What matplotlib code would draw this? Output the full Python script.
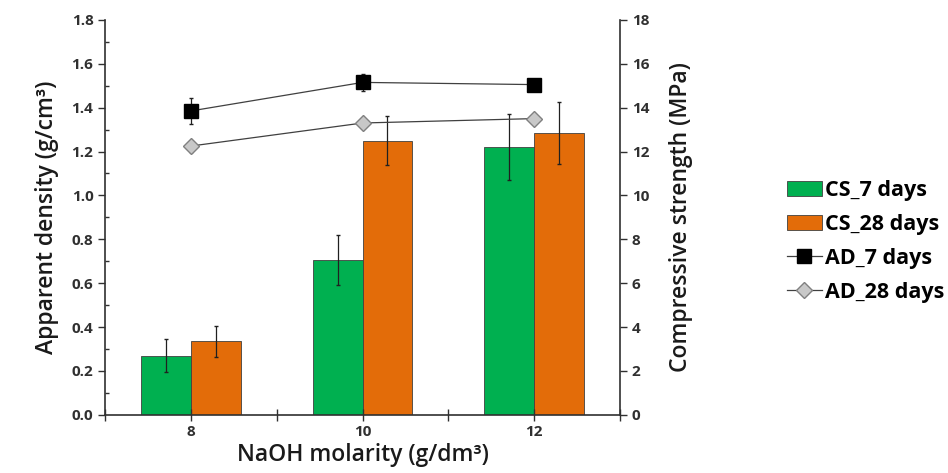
import numpy as np
import matplotlib.pyplot as plt
from matplotlib.ticker import MultipleLocator, FormatStrFormatter

plt.rcParams['font.family'] = ['Open Sans', 'DejaVu Sans']
plt.rcParams['font.weight'] = 'bold'

molarity = ['8', '10', '12']
cs_7 = [2.7, 7.05, 12.2]
cs_7_err = [0.75, 1.15, 1.5]
cs_28 = [3.35, 12.5, 12.85]
cs_28_err = [0.72, 1.1, 1.4]
ad_7 = [1.385, 1.515, 1.505]
ad_7_err = [0.06, 0.04, 0.0]
ad_28 = [1.225, 1.33, 1.35]
ad_28_err = [0.025, 0.02, 0.015]

fig = plt.figure(figsize=(9.48, 4.73), dpi=100)
ax = fig.add_axes([0.111, 0.123, 0.543, 0.835])
ax2 = ax.twinx()

x = np.arange(len(molarity)) + 0.5
w = 0.29

# bars on the strength axis
b1 = ax2.bar(x - w / 2, cs_7, w, color='#00B050', edgecolor='#404040', linewidth=0.6,
             yerr=cs_7_err, error_kw=dict(ecolor='#202020', elinewidth=0.9, capsize=1.5),
             label='CS_7 days', zorder=2)
b2 = ax2.bar(x + w / 2, cs_28, w, color='#E36C09', edgecolor='#404040', linewidth=0.6,
             yerr=cs_28_err, error_kw=dict(ecolor='#202020', elinewidth=0.9, capsize=1.5),
             label='CS_28 days', zorder=2)

# density lines drawn over the bars
ax.set_zorder(ax2.get_zorder() + 1)
ax.patch.set_visible(False)
l1 = ax.errorbar(x, ad_7, yerr=ad_7_err, color='#404040', lw=0.9, marker='s', ms=10,
                 mfc='black', mec='black', ecolor='#202020', elinewidth=0.9, capsize=1.5,
                 label='AD_7 days')
l2 = ax.errorbar(x, ad_28, yerr=ad_28_err, color='#404040', lw=0.9, marker='D', ms=8,
                 mfc='#C8C8C8', mec='#808080', mew=1.0, ecolor='#202020', elinewidth=0.9,
                 capsize=1.5, label='AD_28 days')

ax.set_xlim(0, 3)
ax.set_ylim(0, 1.8)
ax2.set_ylim(0, 18)
ax.yaxis.set_major_locator(MultipleLocator(0.2))
ax.yaxis.set_minor_locator(MultipleLocator(0.1))
ax.yaxis.set_major_formatter(FormatStrFormatter('%.1f'))
ax2.yaxis.set_major_locator(MultipleLocator(2))

ax.set_xticks(np.arange(0, 3.01, 0.5))
ax.set_xticklabels(['', '8', '', '10', '', '12', ''])

for a in (ax, ax2):
    a.spines['top'].set_visible(False)
    for s in a.spines.values():
        s.set_color('#303030')
        s.set_linewidth(1.2)
ax.spines['right'].set_visible(False)
ax2.spines['left'].set_visible(False)
ax2.spines['bottom'].set_visible(False)

ax.tick_params(axis='y', which='major', direction='out', length=5, width=1, labelsize=11,
               colors='#303030', labelcolor='#303030')
ax.tick_params(axis='y', which='minor', direction='in', length=3, width=1, colors='#303030')
ax.tick_params(axis='x', direction='inout', length=8, width=1, labelsize=11, colors='#303030')
ax2.tick_params(axis='y', direction='out', length=5, width=1, labelsize=11, colors='#303030')

ax.set_ylabel('Apparent density (g/cm³)', fontsize=16.5, fontweight='semibold', color='#1a1a1a', labelpad=9)
ax2.set_ylabel('Compressive strength (MPa)', fontsize=16.5, fontweight='semibold', color='#1a1a1a', labelpad=14)
ax.set_xlabel('NaOH molarity (g/dm³)', fontsize=16.5, fontweight='semibold', color='#1a1a1a', labelpad=3)

handles = [b1, b2, l1[0], l2[0]]
labels = ['CS_7 days', 'CS_28 days', 'AD_7 days', 'AD_28 days']
fig.legend(handles, labels, loc='center left',
           bbox_to_anchor=(0.81, 0.49), frameon=False,
           handlelength=1.6, handletextpad=0.15, labelspacing=0.6,
           prop={'weight': 'bold', 'size': 15.5})

fig.savefig('out.png', dpi=100)
